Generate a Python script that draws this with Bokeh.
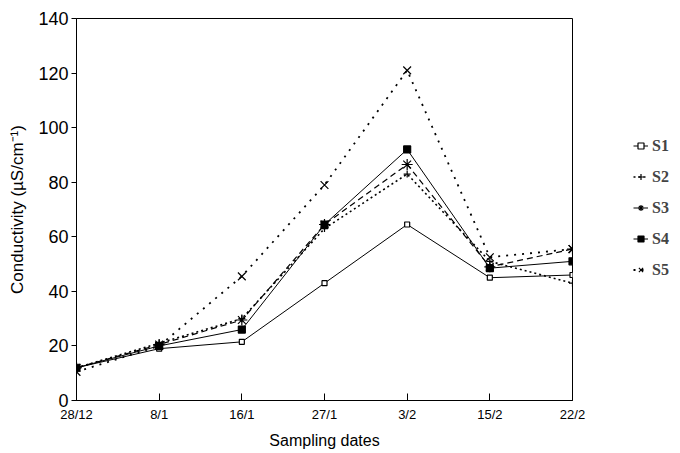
from bokeh.plotting import figure
from bokeh.models import FixedTicker, Legend, LegendItem, Range1d
from bokeh.embed import file_html
from bokeh.resources import INLINE

dates = ["28/12", "8/1", "16/1", "27/1", "3/2", "15/2", "22/2"]
s1 = [12, 19, 21.5, 43, 64.5, 45, 46]
s2 = [12, 21, 30, 63, 83, 51, 43]
s3 = [12, 20.5, 29.5, 64.5, 86.5, 49, 55.5]
s4 = [12, 20, 26, 64.5, 92, 48.5, 51]
s5 = [10.5, 20, 45.5, 79, 121, 52.5, 55.5]
y_ticks = [0, 20, 40, 60, 80, 100, 120, 140]

x = list(range(len(dates)))

p = figure(frame_width=496, frame_height=382, output_backend="svg", toolbar_location=None,
           x_range=Range1d(0, 6), y_range=Range1d(0, 140),
           min_border_left=76, min_border_top=18, min_border_bottom=48, min_border_right=0)
p.grid.visible = False
p.outline_line_color = "black"
p.outline_line_width = 1

p.xaxis.ticker = FixedTicker(ticks=x)
p.xaxis.major_label_overrides = {i: d for i, d in enumerate(dates)}
p.xaxis.major_tick_in = 7
p.xaxis.major_tick_out = 0
p.xaxis.minor_tick_line_color = None
p.xaxis.major_label_text_font = "Liberation Sans"
p.xaxis.major_label_text_font_size = "13px"
p.xaxis.major_label_standoff = 6
p.xaxis.axis_label = "Sampling dates"
p.xaxis.axis_label_text_font = "Liberation Sans"
p.xaxis.axis_label_text_font_size = "16px"
p.xaxis.axis_label_text_font_style = "normal"
p.xaxis.axis_label_standoff = 7

p.yaxis.ticker = FixedTicker(ticks=y_ticks)
p.yaxis.major_tick_in = 0
p.yaxis.major_tick_out = 5
p.yaxis.minor_tick_line_color = None
p.yaxis.major_label_text_font = "Liberation Sans"
p.yaxis.major_label_text_font_size = "18px"
p.yaxis.major_label_standoff = 3
p.yaxis.axis_label = "Conductivity (\u00b5S/cm\u207b\u00b9)"
p.yaxis.axis_label_text_font = "Liberation Sans"
p.yaxis.axis_label_text_font_size = "17px"
p.yaxis.axis_label_text_font_style = "normal"
p.yaxis.axis_label_standoff = 8
p.axis.axis_line_color = "black"
p.axis.major_tick_line_color = "black"
p.axis.major_label_text_color = "black"
p.axis.axis_label_text_color = "black"

items = []
specs = [
    ("S1", s1, None, "square", 5, False, 1.0),
    ("S2", s2, "2 3", "cross", 7, True, 1.6),
    ("S3", s3, "6 4", "asterisk", 11, True, 1.2),
    ("S4", s4, None, "square", 7, True, 1.0),
    ("S5", s5, "2 6", "x", 11, True, 1.8),
]
for name, ys, dash, marker, size, filled, lw in specs:
    if dash:
        ln = p.line(x, ys, line_color="black", line_width=lw, line_dash=dash)
    else:
        ln = p.line(x, ys, line_color="black", line_width=lw)
    sc = p.scatter(x, ys, marker=marker, size=size, line_color="black",
                   fill_color="black" if filled else "white", line_width=1.2)
    items.append(LegendItem(label=name, renderers=[ln, sc]))

legend = Legend(items=items, location=(61, 119), border_line_color=None,
                background_fill_alpha=0, label_text_font="Liberation Serif",
                label_text_font_style="bold", label_text_font_size="16px",
                glyph_width=15, label_standoff=4, spacing=8, label_height=23,
                glyph_height=23, padding=0, margin=0)
p.add_layout(legend, "right")

open("out.html", "w").write(file_html(p, INLINE))
